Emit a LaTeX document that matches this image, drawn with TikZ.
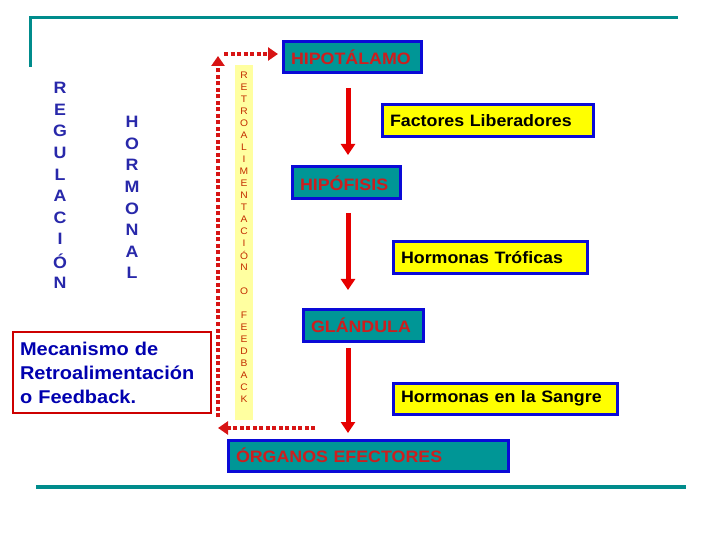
\documentclass[tikz,border=0pt]{standalone}
\usepackage{fontspec}
\setmainfont{Liberation Sans}[FakeStretch=1.08]
\usetikzlibrary{arrows.meta}

\definecolor{verdeazul}{RGB}{0,150,150}
\definecolor{linea}{RGB}{0,140,140}
\definecolor{azulborde}{RGB}{10,10,215}
\definecolor{rojotexto}{RGB}{205,30,30}
\definecolor{amarillo}{RGB}{255,255,0}
\definecolor{amarillopalido}{RGB}{255,255,160}
\definecolor{rojo}{RGB}{230,0,0}
\definecolor{rojopunto}{RGB}{215,20,20}
\definecolor{rojofb}{RGB}{195,45,0}
\definecolor{azulletra}{RGB}{40,40,170}
\definecolor{azultexto}{RGB}{0,0,175}
\definecolor{rojoborde}{RGB}{205,0,0}

\tikzset{
  caja/.style={draw=azulborde, line width=3bp, anchor=north west, outer sep=0pt,
    inner xsep=8bp, inner ysep=0pt, align=left,
    font=\fontsize{16.5bp}{19bp}\selectfont\bfseries},
  cajaverde/.style={caja, fill=verdeazul, text=rojotexto},
  cajaamarilla/.style={caja, fill=amarillo, text=black},
  flecha/.style={draw=rojo, line width=5bp, -{Triangle[width=14bp,length=11bp]}},
  punteada/.style={draw=rojopunto, line width=4bp, dash pattern=on 4bp off 2.5bp,
    -{Triangle[width=13bp,length=10bp]}},
  letraazul/.style={text=azulletra, font=\fontsize{16.5bp}{19bp}\selectfont\bfseries},
  letrafb/.style={text=rojofb, font=\fontsize{9.5bp}{11bp}\selectfont},
}

\begin{document}
\begin{tikzpicture}[x=1bp, y=-1bp]
  \useasboundingbox (0,0) rectangle (720,540);

  % Lineas del marco
  \draw[linea, line width=3bp] (30,67) -- (30,18) -- (678,18);
  \draw[linea, line width=3.5bp] (36,487) -- (686,487);

  % Regulacion hormonal
  \foreach \l [count=\i from 0] in {R,E,G,U,L,A,C,I,Ó,N}
    \node[letraazul] (reg\i) at (60, 88+21.6*\i) {\l};
  \foreach \l [count=\i from 0] in {H,O,R,M,O,N,A,L}
    \node[letraazul] (hor\i) at (132, 122+21.6*\i) {\l};

  % Mecanismo
  \node[draw=rojoborde, line width=2.5bp, anchor=north west, outer sep=0pt,
    inner xsep=7bp, inner ysep=0pt, text width=184bp, minimum height=81bp,
    align=left, text=azultexto, font=\fontsize{18.5bp}{24bp}\selectfont\bfseries]
    (mecanismo) at (13,332) {Mecanismo de\\Retroalimentación\\o Feedback.};

  % Franja de retroalimentacion
  \fill[amarillopalido] (235,65) rectangle (253,420);
  \foreach \l [count=\i from 0] in {R,E,T,R,O,A,L,I,M,E,N,T,A,C,I,Ó,N}
    \node[letrafb] (retro\i) at (244, 75+12*\i) {\l};
  \node[letrafb] (o) at (244, 291) {O};
  \foreach \l [count=\i from 0] in {F,E,E,D,B,A,C,K}
    \node[letrafb] (feed\i) at (244, 315+12*\i) {\l};

  % Cajas
  \node[cajaverde, text width=122bp, minimum height=31bp] (hipot) at (283,42) {HIPOTÁLAMO};
  \node[cajaamarilla, text width=195bp, minimum height=32bp] (factores) at (382,105) {Factores Liberadores};
  \node[cajaverde, text width=92bp, minimum height=32bp] (hipof) at (292,167) {HIPÓFISIS};
  \node[cajaamarilla, text width=178bp, minimum height=31bp] (troficas) at (393,242) {Hormonas Tróficas};
  \node[cajaverde, text width=104bp, minimum height=32bp] (glandula) at (303,309) {GLÁNDULA};
  \node[cajaamarilla, text width=208bp, minimum height=31bp] (sangre) at (393,383) {Hormonas en la Sangre};
  \node[cajaverde, text width=264bp, minimum height=31bp] (organos) at (228,440) {ÓRGANOS EFECTORES};

  % Flechas
  \coordinate (eje) at (348,0);
  \draw[flecha, shorten <=15bp, shorten >=12bp] (hipot.south -| eje) -- (hipof.north -| eje);
  \draw[flecha, shorten <=14bp, shorten >=19bp] (hipof.south -| eje) -- (glandula.north -| eje);
  \draw[flecha, shorten <=7bp, shorten >=7bp] (glandula.south -| eje) -- (organos.north -| eje);

  % Retroalimentacion punteada
  \coordinate (fbabajo) at (218,417);
  \coordinate (fbarriba) at (218,56);
  \coordinate (fbesquina) at (224,54);
  \coordinate (fbinicio) at (315,428);
  \draw[punteada] (fbabajo) -- (fbarriba);
  \draw[punteada, shorten >=5bp] (fbesquina) -- (fbesquina -| hipot.west);
  \draw[punteada] (fbinicio) -- (fbinicio -| fbabajo);
\end{tikzpicture}
\end{document}
